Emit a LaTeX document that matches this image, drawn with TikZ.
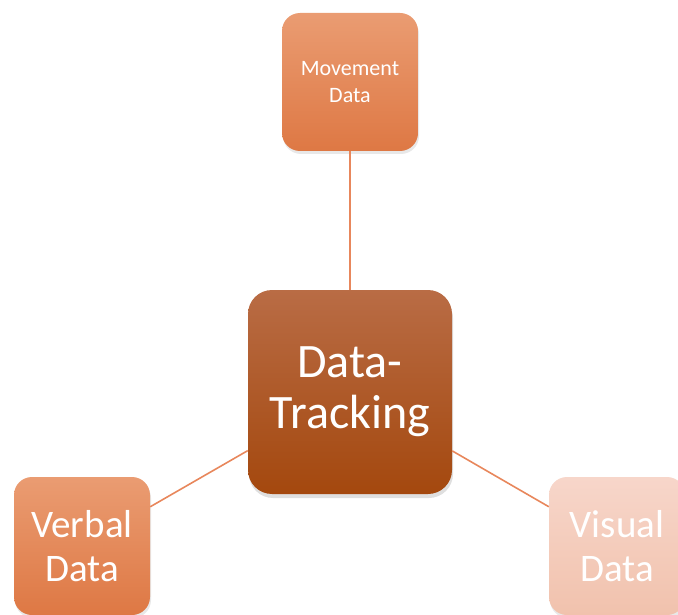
\documentclass[tikz,border=0pt]{standalone}
\usepackage{fontspec}
\setmainfont{Carlito}
\usepackage{xcolor}
\usetikzlibrary{shapes,positioning,shadows}

\definecolor{movetop}{HTML}{EA9C72}
\definecolor{movebot}{HTML}{DE7844}
\definecolor{tracktop}{HTML}{B96C45}
\definecolor{trackbot}{HTML}{A4480E}
\definecolor{vistop}{HTML}{F7D6CA}
\definecolor{visbot}{HTML}{F1C2AD}
\definecolor{linkcol}{HTML}{E8875C}

\begin{document}
\begin{tikzpicture}[
    x=1pt, y=-1pt,
    source/.style={rectangle, rounded corners=18pt, inner sep=0pt, minimum width=136pt, minimum height=138pt,
        top color=movetop, bottom color=movebot, text=white, align=center,
        drop shadow={opacity=0.18, shadow xshift=1pt, shadow yshift=-3pt}},
    hub/.style={rectangle, rounded corners=24pt, inner sep=0pt, minimum width=204pt, minimum height=204pt,
        top color=tracktop, bottom color=trackbot, text=white, align=center,
        font=\fontsize{48}{51}\selectfont,
        drop shadow={opacity=0.25, shadow xshift=1pt, shadow yshift=-4pt}},
    link/.style={draw=linkcol, line width=1.6pt}
]
    \useasboundingbox (0,0) rectangle (678,615);
    \clip (0,0) rectangle (678,615);

    % Centres
    \coordinate (c-move) at (350,82);
    \coordinate (c-track) at (350,392);
    \coordinate (c-verbal) at (82,546);
    \coordinate (c-visual) at (617,546);

    % Boxes
    \node[source, font=\fontsize{22}{27}\selectfont] (move) at (c-move) {Movement\\Data};
    \node[source, font=\fontsize{39}{44}\selectfont] (verbal) at (c-verbal) {Verbal\\Data};
    \node[source, top color=vistop, bottom color=visbot, font=\fontsize{39}{44}\selectfont] (visual) at (c-visual) {Visual\\Data};
    \node[hub] (track) at (c-track) {Data-\\Tracking};

    % Connections
    \draw[link] (move) -- (track);
    \draw[link] (verbal) -- (track);
    \draw[link] (track) -- (visual);

\end{tikzpicture}
\end{document}
